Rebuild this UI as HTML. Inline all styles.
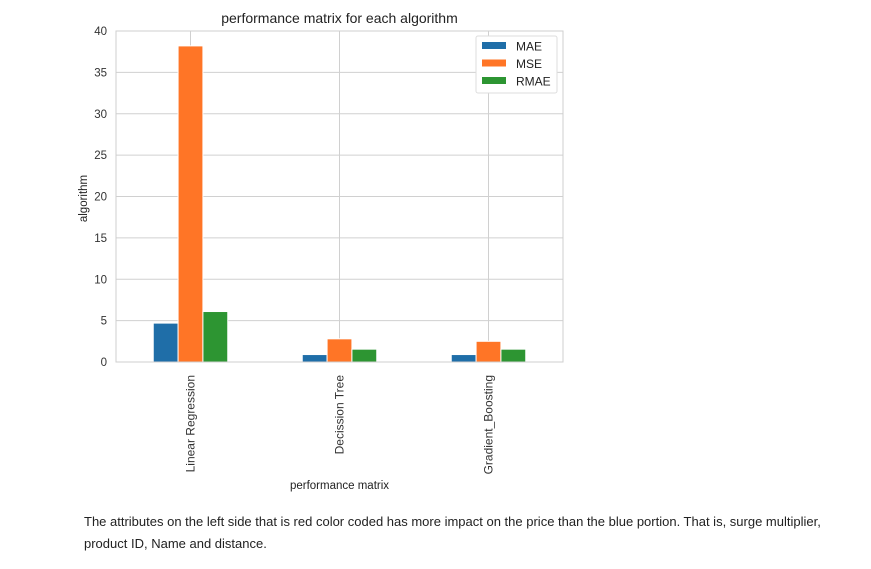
<!DOCTYPE html>
<html><head><meta charset="utf-8"><style>
body{margin:0;background:#fff;width:871px;height:569px;overflow:hidden;font-family:"Liberation Sans",sans-serif}
svg{position:absolute;left:0;top:0}
.cap{position:absolute;left:84px;top:511px;width:760px;font-size:13px;line-height:22px;color:#222}
</style></head><body>
<svg id="chart" width="871" height="500"></svg>
<div class="cap">The attributes on the left side that is red color coded has more impact on the price than the blue portion. That is, surge multiplier, product ID, Name and distance.</div>
<script>
const categories=["Linear Regression","Decission Tree","Gradient_Boosting"];
const seriesNames=["MAE","MSE","RMAE"];
const maeValues=[4.7,0.9,0.9];
const mseValues=[38.2,2.8,2.5];
const rmaeValues=[6.1,1.55,1.55];
const yTicks=[0,5,10,15,20,25,30,35,40];
const colors=["#1f6ea8","#ff7526","#2d9532"];
const ns="http://www.w3.org/2000/svg";
const svg=document.getElementById("chart");
const L=116,R=563,T=31,B=362,yMax=40;
const y=v=>B-(v/yMax)*(B-T);
const step=(R-L)/3;
const xc=i=>L+step*(i+0.5);
const bw=step/6;
function mk(t,a,txt){const e=document.createElementNS(ns,t);for(const k in a)e.setAttribute(k,a[k]);if(txt!==undefined)e.textContent=txt;svg.appendChild(e);return e;}
yTicks.forEach(t=>{
 const g=mk("line",{x1:L,x2:R,y1:y(t),y2:y(t),stroke:"#d0d0d0","stroke-width":1});
 
 
 const l=mk("text",{x:L-9,y:y(t)+4,"text-anchor":"end","font-size":11.5,fill:"#333"},t);
 
 
});
categories.forEach((c,i)=>{
 const g=mk("line",{x1:xc(i),x2:xc(i),y1:T,y2:B,stroke:"#d0d0d0","stroke-width":1});
 
 
 const l=mk("text",{x:0,y:0,"text-anchor":"end","font-size":12,fill:"#333",transform:`translate(${xc(i)+4},${B+13}) rotate(-90)`},c);
 
 
});
const all=[maeValues,mseValues,rmaeValues];
all.forEach((vals,s)=>{
 vals.forEach((v,i)=>{
  const x=xc(i)-1.5*bw+s*bw;
  const r=mk("rect",{x:x,y:y(v),width:bw,height:B-y(v),fill:colors[s],stroke:"#fff","stroke-width":1});
  
  
 });
});
const fr=mk("rect",{x:L,y:T,width:R-L,height:B-T,fill:"none",stroke:"#cfcfcf","stroke-width":1});


const t=mk("text",{x:(L+R)/2,y:23,"text-anchor":"middle","font-size":14,fill:"#222"},"performance matrix for each algorithm");


const yt=mk("text",{x:0,y:0,"text-anchor":"middle","font-size":11.5,fill:"#222",transform:`translate(87,${(T+B)/2+2}) rotate(-90)`},"algorithm");


const xt=mk("text",{x:(L+R)/2,y:489,"text-anchor":"middle","font-size":11.5,fill:"#222"},"performance matrix");


const lb=mk("rect",{x:476,y:36,width:81,height:57,fill:"#fff",stroke:"#ddd",rx:2});


seriesNames.forEach((n,s)=>{
 const sw=mk("rect",{x:482,y:42+s*17.5,width:24,height:7,fill:colors[s]});
 
 
 const lt=mk("text",{x:516,y:50.5+s*17.5,"font-size":12,fill:"#222"},n);
 
 
});
</script>
</body></html>
